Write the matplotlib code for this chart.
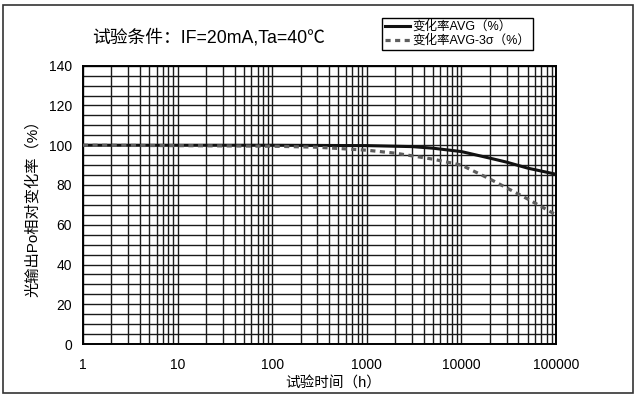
import numpy as np
import matplotlib
matplotlib.use("Agg")
import matplotlib.pyplot as plt
from matplotlib.patches import Rectangle
from matplotlib.ticker import LogLocator, FixedLocator, NullFormatter

plt.rcParams['font.family'] = ['Liberation Sans', 'Noto Sans CJK SC', 'DejaVu Sans']

# hours of test
hours = [1, 10, 100, 1000, 3000, 5000, 10000, 20000, 30000, 50000, 100000]
# AVG change rate (%)
avg = [100, 100, 100, 99.8, 99.3, 98.5, 96.8, 93.5, 91.5, 88.5, 85.4]

hours_3s = [1, 10, 100, 300, 1000, 2000, 5000, 10000, 20000, 50000, 100000]
# AVG-3sigma change rate (%)
avg_3s = [100, 99.8, 99.5, 99.0, 97.5, 96.0, 93.0, 90.0, 83.0, 73.0, 65.0]

x_ticks = [1, 10, 100, 1000, 10000, 100000]
x_labels = ["1", "10", "100", "1000", "10000", "100000"]
y_ticks = [0, 20, 40, 60, 80, 100, 120, 140]

fig = plt.figure(figsize=(6.38, 3.95), dpi=100)
ax = fig.add_axes([0.130, 0.129, 0.7415, 0.7047])

ax.set_xscale("log")
ax.set_xlim(1, 100000)
ax.set_ylim(0, 140)

ax.xaxis.set_major_locator(FixedLocator(x_ticks))
ax.xaxis.set_minor_locator(LogLocator(base=10, subs=np.arange(2, 10)))
ax.xaxis.set_minor_formatter(NullFormatter())
ax.set_xticks(x_ticks)
ax.set_xticklabels(x_labels)
ax.set_yticks(y_ticks)
ax.set_yticks(np.arange(0, 141, 5), minor=True)

ax.grid(True, which="both", color="#1a1a1a", linewidth=1.0)
ax.tick_params(which="both", length=0, labelsize=10)
ax.tick_params(axis="x", pad=10)
ax.tick_params(axis="y", pad=8)
for s in ax.spines.values():
    s.set_linewidth(1.4)
    s.set_color("black")

ax.plot(hours, avg, color="#111111", linewidth=2.2, label="变化率AVG（%）", zorder=3)
ax.plot(hours_3s, avg_3s, color="#5e5e5e", linewidth=2.3, linestyle=(0, (1.6, 1.4)),
        label="变化率AVG-3σ（%）", zorder=3)

ax.set_xlabel("试验时间（h）", fontsize=10.5)
ax.xaxis.set_label_coords(0.53, -0.115)
ax.set_ylabel("光输出Po相对变化率（%）", fontsize=11, labelpad=6)

fig.text(0.144, 0.905, "试验条件：IF=20mA,Ta=40℃", fontsize=12.8, va="center", ha="left")

leg = fig.legend(loc="upper left", bbox_to_anchor=(0.599, 0.954), fontsize=9,
                 frameon=True, fancybox=False, edgecolor="black", framealpha=1,
                 handlelength=2.0, handletextpad=0.2, borderpad=0.2,
                 labelspacing=0.12, borderaxespad=0)
leg.get_frame().set_linewidth(1.0)

fig.patches.append(Rectangle((0.005, 0.004), 0.987, 0.983, transform=fig.transFigure,
                             fill=False, edgecolor="#333333", linewidth=1.2))

fig.savefig("out.png", dpi=100)
